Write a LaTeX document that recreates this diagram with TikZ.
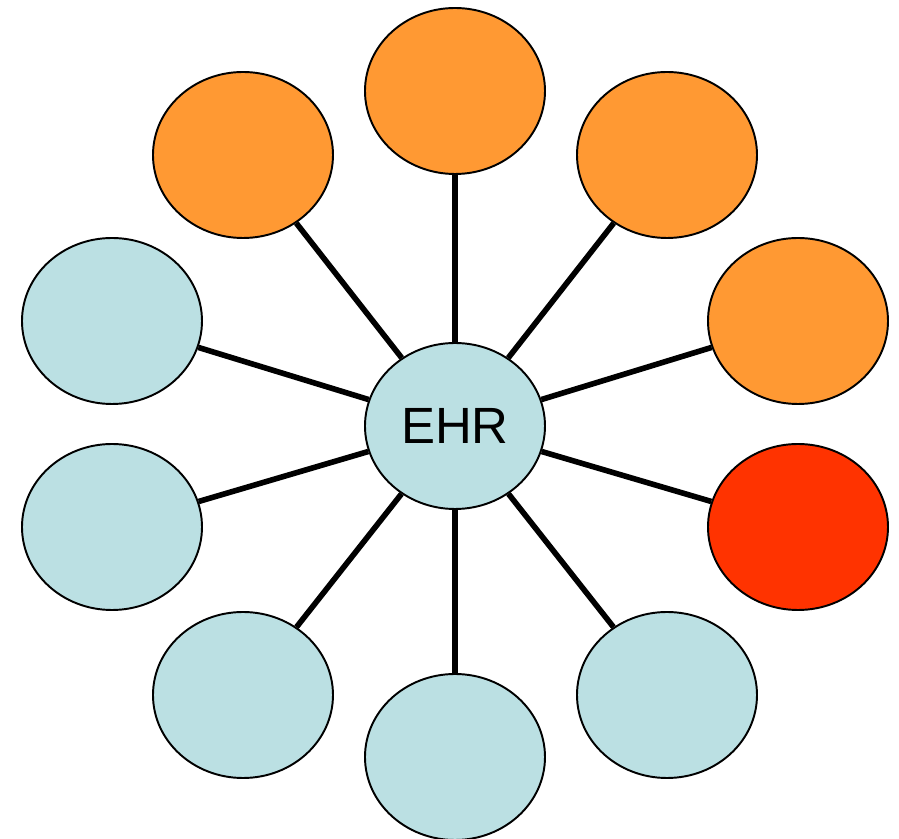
\documentclass[tikz,border=0pt]{standalone}
\usepackage{fontspec}
\setmainfont{Liberation Sans}
\usepackage{xcolor}
\usetikzlibrary{shapes.geometric}

\definecolor{ehrblue}{HTML}{BBE0E3}
\definecolor{ehrorange}{HTML}{FF9933}
\definecolor{ehrred}{HTML}{FF3300}

\begin{document}
\begin{tikzpicture}[
      bubble/.style={ellipse, draw, line width=1.1pt, inner sep=0pt, minimum width=3.6cm, minimum height=3.32cm, fill=ehrblue},
      spoke/.style={line width=3.2pt}
  ]
  \useasboundingbox (-9.10,-8.26) rectangle (8.88,8.52);
  % Hub
  \node[bubble] (ehr) at (0,0) {\fontsize{29}{33}\selectfont EHR};
  % Outer bubbles
  \node[bubble, fill=ehrorange] (top) at (0,6.70) {};
  \node[bubble, fill=ehrorange] (upright) at (4.24,5.42) {};
  \node[bubble, fill=ehrorange] (rightup) at (6.86,2.10) {};
  \node[bubble, fill=ehrred] (rightdown) at (6.86,-2.02) {};
  \node[bubble] (lowright) at (4.24,-5.38) {};
  \node[bubble] (bottom) at (0,-6.62) {};
  \node[bubble] (lowleft) at (-4.24,-5.38) {};
  \node[bubble] (leftdown) at (-6.86,-2.02) {};
  \node[bubble] (leftup) at (-6.86,2.10) {};
  \node[bubble, fill=ehrorange] (upleft) at (-4.24,5.42) {};
  % Spokes
  \draw[spoke] (ehr) -- (top);
  \draw[spoke] (ehr) -- (upright);
  \draw[spoke] (ehr) -- (rightup);
  \draw[spoke] (ehr) -- (rightdown);
  \draw[spoke] (ehr) -- (lowright);
  \draw[spoke] (ehr) -- (bottom);
  \draw[spoke] (ehr) -- (lowleft);
  \draw[spoke] (ehr) -- (leftdown);
  \draw[spoke] (ehr) -- (leftup);
  \draw[spoke] (ehr) -- (upleft);
\end{tikzpicture}
\end{document}
